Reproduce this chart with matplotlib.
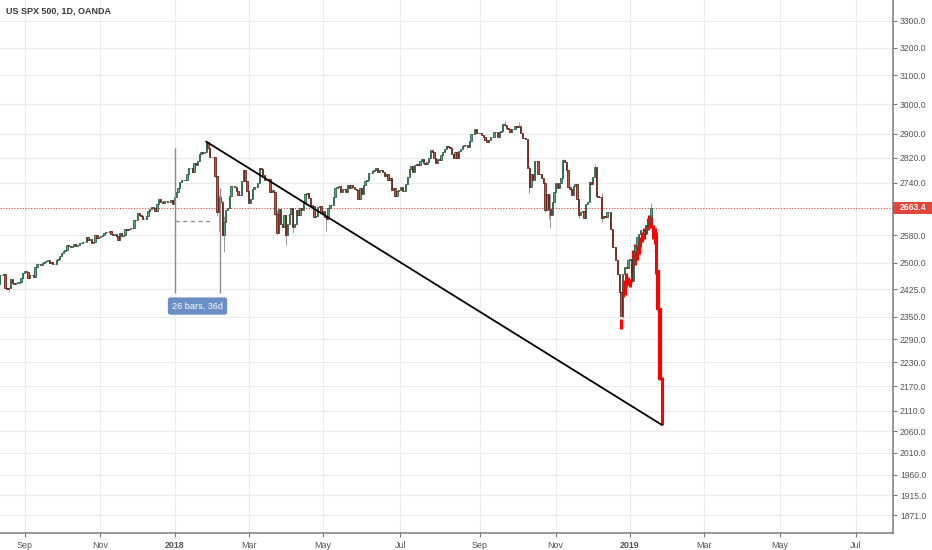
import numpy as np
import pandas as pd
import matplotlib.pyplot as plt
import matplotlib.transforms as mtransforms
from matplotlib.patches import Rectangle
from matplotlib.ticker import FixedLocator, NullLocator

plt.rcParams['font.family'] = ['Liberation Sans', 'DejaVu Sans']

# daily closes (OANDA CFD trades most US holidays, so those days have a bar)
aug_2017 = [2466, 2464, 2468, 2430, 2426, 2428, 2453, 2444, 2439, 2444, 2444, 2446, 2457, 2472]
sep_2017 = [2476, 2473, 2458, 2465, 2465, 2461, 2488, 2496, 2498, 2495, 2500, 2503, 2506, 2508,
            2500, 2502, 2497, 2497, 2507, 2510, 2519]
oct_2017 = [2529, 2534, 2537, 2552, 2549, 2545, 2550, 2555, 2550, 2553, 2557, 2559, 2561, 2562,
            2575, 2565, 2569, 2557, 2560, 2581, 2572, 2575]
nov_2017 = [2579, 2580, 2588, 2591, 2590, 2594, 2585, 2582, 2585, 2579, 2565, 2586, 2579, 2582,
            2599, 2597, 2600, 2603, 2602, 2627, 2626, 2648]
dec_2017 = [2642, 2639, 2629, 2630, 2637, 2652, 2660, 2664, 2662, 2652, 2676, 2691, 2681, 2679,
            2684, 2683, 2680, 2682, 2688, 2674]
jan_2018 = [2695, 2713, 2724, 2743, 2748, 2751, 2748, 2768, 2786, 2788, 2776, 2803, 2798, 2810,
            2833, 2839, 2837, 2839, 2873, 2853, 2822, 2824]
feb_2018 = [2822, 2762, 2649, 2695, 2682, 2581, 2620, 2656, 2663, 2698, 2731, 2732, 2728, 2716,
            2701, 2703, 2747, 2780, 2745, 2714]
mar_2018 = [2678, 2691, 2721, 2728, 2727, 2739, 2786, 2783, 2766, 2750, 2748, 2752, 2712, 2717,
            2711, 2643, 2588, 2658, 2613, 2606, 2641]
apr_2018 = [2582, 2614, 2644, 2663, 2604, 2613, 2657, 2642, 2663, 2656, 2677, 2706, 2708, 2693,
            2670, 2670, 2635, 2639, 2667, 2670, 2648]
may_2018 = [2654, 2636, 2630, 2663, 2672, 2672, 2697, 2723, 2728, 2730, 2711, 2722, 2720, 2713,
            2733, 2725, 2733, 2727, 2721, 2718, 2690, 2724, 2705]
jun_2018 = [2735, 2747, 2749, 2772, 2771, 2779, 2782, 2787, 2776, 2782, 2780, 2774, 2763, 2767,
            2750, 2755, 2718, 2723, 2700, 2716, 2718]
jul_2018 = [2726, 2714, 2716, 2736, 2760, 2784, 2793, 2774, 2798, 2801, 2798, 2809, 2815, 2804,
            2802, 2806, 2820, 2846, 2838, 2819, 2803, 2816]
aug_2018 = [2813, 2828, 2840, 2850, 2858, 2857, 2853, 2834, 2821, 2840, 2819, 2841, 2850, 2858,
            2863, 2862, 2857, 2875, 2897, 2898, 2914, 2901, 2902]
sep_2018 = [2901, 2896, 2888, 2878, 2872, 2877, 2887, 2888, 2904, 2905, 2889, 2904, 2907, 2931,
            2930, 2919, 2916, 2906, 2914, 2914]
oct_2018 = [2924, 2923, 2926, 2902, 2886, 2884, 2881, 2786, 2728, 2768, 2751, 2810, 2809, 2769,
            2768, 2756, 2741, 2657, 2706, 2659, 2641, 2682, 2712]
nov_2018 = [2740, 2723, 2739, 2756, 2814, 2806, 2781, 2726, 2722, 2702, 2730, 2736, 2690, 2641,
            2649, 2652, 2633, 2674, 2682, 2744, 2738, 2760]
dec_2018 = [2790, 2700, 2697, 2696, 2633, 2637, 2636, 2651, 2650, 2600, 2546, 2546, 2507, 2467,
            2417, 2351, 2468, 2489, 2486, 2507]
jan_2019 = [2510, 2448, 2532, 2550, 2574, 2585, 2597, 2596, 2583, 2610, 2616, 2636, 2663.4]

first_open = 2441
closed_days = ['2017-12-25', '2018-01-01', '2018-03-30', '2018-12-25', '2019-01-01']

# notable wicks: date -> (high, low)
wicks = {
    '2018-02-02': (2809, 2759), '2018-02-05': (2763, 2638), '2018-02-06': (2701, 2593),
    '2018-02-08': (2685, 2580), '2018-02-09': (2638, 2532), '2018-03-23': (2657, 2585),
    '2018-04-02': (2638, 2553), '2018-04-06': (2656, 2586), '2018-05-03': (2637, 2594),
    '2018-10-11': (2795, 2710), '2018-10-24': (2742, 2651), '2018-10-26': (2692, 2628),
    '2018-10-29': (2706, 2603), '2018-11-20': (2670, 2632), '2018-12-07': (2708, 2621),
    '2018-12-24': (2410, 2351), '2018-12-26': (2468, 2346), '2019-01-03': (2493, 2444),
    '2017-08-17': (2466, 2428), '2017-08-21': (2433, 2417), '2018-03-22': (2703, 2641),
    '2019-01-18': (2677, 2636), '2018-09-21': (2941, 2926), '2018-10-03': (2939, 2921),
    '2018-12-03': (2800, 2774), '2018-11-07': (2815, 2774),
}

# red bars-pattern projection drawn from the Dec 24 low
red_start = '2018-12-24'
red_top = [2345, 2441, 2450, 2470, 2460, 2455, 2500, 2536, 2556, 2550, 2566, 2576, 2590, 2601,
           2611, 2631, 2641, 2641, 2611, 2601, 2590, 2479, 2373, 2194]
red_bottom = [2317, 2404, 2410, 2432, 2436, 2432, 2470, 2488, 2495, 2507, 2525, 2545, 2560, 2570,
              2585, 2596, 2613, 2603, 2570, 2556, 2469, 2368, 2186, 2076]

trend_dates = ['2018-01-26', '2019-01-28']
trend_prices = [2873, 2076]

range_dates = ['2018-01-02', '2018-02-07']
range_left = (2415, 2853)
range_right = (2415, 2725)
range_mid_price = 2623
range_mid_end = '2018-02-01'
range_label = '26 bars, 36d'
range_label_date = '2018-01-19'
range_label_price = 2379

last_price = 2663.4
price_ticks = [1871, 1915, 1960, 2010, 2060, 2110, 2170, 2230, 2290, 2350, 2425, 2500, 2580,
               2740, 2820, 2900, 3000, 3100, 3200, 3300]
title = 'US SPX 500, 1D, OANDA'

closes = np.array(aug_2017 + sep_2017 + oct_2017 + nov_2017 + dec_2017 + jan_2018 + feb_2018
                  + mar_2018 + apr_2018 + may_2018 + jun_2018 + jul_2018 + aug_2018 + sep_2018
                  + oct_2018 + nov_2018 + dec_2018 + jan_2019, dtype=float)
dates = pd.bdate_range('2017-08-14', '2019-01-18', freq='C', holidays=closed_days)
assert len(dates) == len(closes)
future = pd.bdate_range('2019-01-21', '2019-08-30')
all_dates = dates.append(future)
pos = {d.strftime('%Y-%m-%d'): i for i, d in enumerate(all_dates)}

opens = np.concatenate([[first_open], closes[:-1]])
highs = np.maximum(opens, closes)
lows = np.minimum(opens, closes)
for d, (h, l) in wicks.items():
    k = pos[d]
    highs[k] = max(highs[k], h)
    lows[k] = min(lows[k], l)

fig = plt.figure(figsize=(9.32, 5.5), dpi=100)
ax = fig.add_axes([0, 1 - 533 / 550, 893 / 932, 533 / 550])
ax.set_yscale('log')
ax.set_ylim(1833.4, 3380.5)
ax.set_xlim(0.1, 506.1)

x = np.arange(len(closes))
up = closes >= opens
ax.vlines(x, lows, highs, color='#8c8c8c', lw=0.6, zorder=2)
body_bottom = np.minimum(opens, closes)
body_h = np.maximum(np.abs(closes - opens), 1.0)
ax.bar(x[up], body_h[up], bottom=body_bottom[up], width=0.75, color='#56a47f',
       edgecolor='#1f5a3f', lw=0.55, zorder=3)
ax.bar(x[~up], body_h[~up], bottom=body_bottom[~up], width=0.75, color='#c9513f',
       edgecolor='#5b1a13', lw=0.55, zorder=3)

# red projection
rx = pos[red_start] + np.arange(len(red_top))
ax.vlines(rx, red_bottom, red_top, color='#ff0000', lw=2.2, zorder=2.5)
ax.vlines(rx[-3:-1], np.array(red_bottom[-3:-1]), np.array(red_top[-3:-1]),
          color='#ff0000', lw=3.0, zorder=2.5)

# trend line
ax.plot([pos[d] for d in trend_dates], trend_prices, color='black', lw=1.3, zorder=4)

# date range tool
xl, xr = pos[range_dates[0]], pos[range_dates[1]]
ax.vlines([xl], range_left[0], range_left[1], color='#8c8c8c', lw=1.0, zorder=4)
ax.vlines([xr], range_right[0], range_right[1], color='#8c8c8c', lw=1.0, zorder=4)
ax.plot([xl, pos[range_mid_end]], [range_mid_price] * 2, color='#8f8f8f', lw=1.0,
        ls=(0, (3, 2.5)), zorder=4)
ax.text(pos[range_label_date], range_label_price, range_label, color='white', fontsize=6.6,
        ha='center', va='center', zorder=6,
        bbox=dict(boxstyle='round,pad=0.45,rounding_size=0.25', fc='#6b8ec6', ec='none'))

# current price line + label
ax.axhline(last_price, color='#e0463c', lw=0.8, ls=(0, (1, 1.5)), zorder=1.5)
trans = mtransforms.blended_transform_factory(ax.transAxes, ax.transData)
ax.add_patch(Rectangle((1.0, last_price * np.exp(-6 / 871)), 39 / 893,
                       last_price * (np.exp(6 / 871) - np.exp(-6 / 871)),
                       transform=trans, fc='#e0463c', ec='none', clip_on=False, zorder=6))
ax.text(1.0 + 7 / 893, last_price, f'{last_price:.1f}', transform=trans, color='white',
        fontsize=6.2, fontweight='bold', ha='left', va='center', zorder=7)

# axes styling
for s in ['top', 'left']:
    ax.spines[s].set_visible(False)
for s in ['right', 'bottom']:
    ax.spines[s].set_color('#7a7a7a')
    ax.spines[s].set_linewidth(1.1)

ax.yaxis.tick_right()
ax.yaxis.set_major_locator(FixedLocator(price_ticks))
ax.yaxis.set_minor_locator(NullLocator())
ax.set_yticklabels([f'{p:.1f}' for p in price_ticks])
ax.tick_params(axis='y', which='major', direction='out', length=3, width=0.8, color='#7a7a7a',
               labelsize=6.2, labelcolor='#555555', pad=2)

month_starts = pd.date_range('2017-09-01', '2019-07-01', freq='2MS')
tick_pos = [all_dates.searchsorted(m) for m in month_starts]
tick_lab = [m.strftime('%Y') if m.month == 1 else m.strftime('%b') for m in month_starts]
ax.set_xticks(tick_pos)
ax.set_xticklabels(tick_lab)
for lab, m in zip(ax.get_xticklabels(), month_starts):
    if m.month == 1:
        lab.set_fontweight('bold')
        lab.set_color('#333333')
ax.tick_params(axis='x', direction='out', length=3, width=0.8, color='#7a7a7a',
               labelsize=6.4, labelcolor='#555555', pad=3)

ax.grid(True, color='#ececec', lw=0.8, zorder=0)
ax.set_axisbelow(True)

fig.text(6 / 932, 1 - 11 / 550, title, fontsize=6.5, fontweight='bold', color='#3a3a3a',
         ha='left', va='center')

fig.savefig('out.png', dpi=100)
